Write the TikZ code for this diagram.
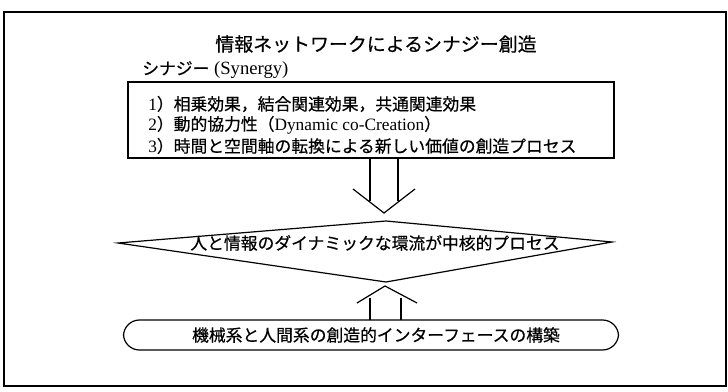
\documentclass[tikz,border=0pt]{standalone}
\usepackage{fontspec}
\setmainfont{Liberation Serif}
\newfontfamily\jp[FakeBold=0.5]{Noto Sans CJK JP}
\begin{document}
\begin{tikzpicture}[x=0.75pt,y=-0.75pt,
  frame/.style={line width=1.5pt},
  ln/.style={line width=0.9pt},
  jtxt/.style={font=\jp\fontsize{12.6}{15}\selectfont, inner sep=0pt},
  ltxt/.style={anchor=west, inner sep=0pt, font=\fontsize{13}{15}\selectfont},
]
\useasboundingbox (0,0) rectangle (728,392);
\draw[frame] (4,12) rectangle (726,386);
% title
\node[jtxt, font=\jp\fontsize{14.2}{17}\selectfont] (title) at (376,44) {情報ネットワークによるシナジー創造};
\node[ltxt, font=\fontsize{14}{16}\selectfont] (syn) at (142,70) {{\jp\fontsize{12.6}{15}\selectfont シナジー} (Synergy)};
% box
\node[draw, ln, minimum width=486*0.75pt, minimum height=76*0.75pt, inner sep=0pt] (box) at (371,120) {};
\node[ltxt] (l1) at (148,104) {1{\jp\fontsize{12.6}{15}\selectfont ）相乗効果，結合関連効果，共通関連効果}};
\node[ltxt] (l2) at (148,125) {2{\jp\fontsize{12.6}{15}\selectfont ）動的協力性（}Dynamic co-Creation{\jp\fontsize{12.6}{15}\selectfont ）}};
\node[ltxt] (l3) at (148,146) {3{\jp\fontsize{12.6}{15}\selectfont ）時間と空間軸の転換による新しい価値の創造プロセス}};
% diamond
\coordinate (dl) at (118,243);
\coordinate (dt) at (386,221);
\coordinate (dr) at (612,242);
\coordinate (db) at (386,282);
\draw[ln] (dl) -- (dt) -- (dr) -- (db) -- cycle;
\node[jtxt] (dtext) at (375,243) {人と情報のダイナミックな環流が中核的プロセス};
% down arrow
\coordinate (da1) at (370,158);
\coordinate (da2) at (398,158);
\coordinate (dtip) at (384,213);
\draw[ln] (da1) -- (370,201);
\draw[ln] (da2) -- (398,201);
\draw[ln] (353,189) -- (dtip) -- (415,189);
% rounded box
\node[draw, ln, rounded corners=12pt, minimum width=495*0.75pt, minimum height=30*0.75pt, inner sep=0pt] (rbox) at (371,335) {};
\node[jtxt] (rtext) at (376,335) {機械系と人間系の創造的インターフェースの構築};
% up arrow
\coordinate (utip) at (385,286);
\draw[ln] (370,320) -- (370,298);
\draw[ln] (401,320) -- (401,298);
\draw[ln] (357,303) -- (utip) -- (417,303);
\end{tikzpicture}
\end{document}
